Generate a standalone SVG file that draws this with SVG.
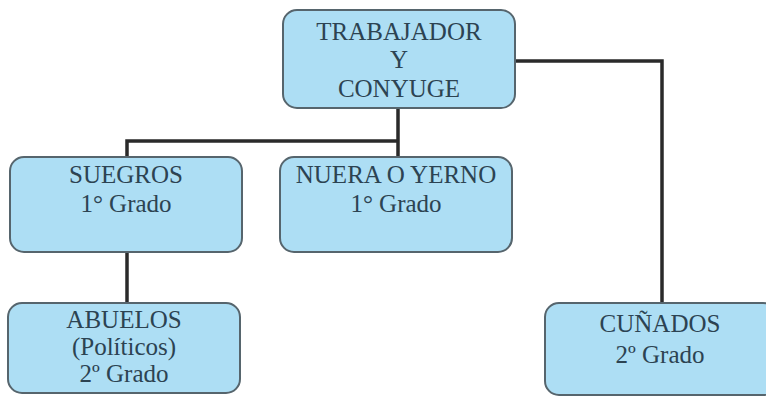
<svg xmlns="http://www.w3.org/2000/svg" width="766" height="396" viewBox="0 0 766 396">
<style>
.box{fill:#addef4;stroke:#56656d;stroke-width:2}
.t{font-family:"Liberation Serif","Times New Roman",serif;font-size:25px;fill:#2c4352;text-anchor:middle}
.c{fill:none;stroke:#2a2a2a;stroke-width:3.5;stroke-linejoin:miter}
</style>
<rect width="766" height="396" fill="#ffffff"/>
<g id="connectors">
<path class="c" d="M398 108 V141 M127 157 V141 H398 V157"/>
<path class="c" d="M127 252 V303"/>
<path class="c" d="M515 61 H662 V303"/>
</g>
<g id="trabajador">
<rect class="box" x="283" y="10" width="232" height="98" rx="14"/>
<text class="t" x="399" y="40">TRABAJADOR</text>
<text class="t" x="399" y="68">Y</text>
<text class="t" x="399" y="97">CONYUGE</text>
</g>
<g id="suegros">
<rect class="box" x="10" y="157" width="232" height="95" rx="14"/>
<text class="t" x="126" y="183">SUEGROS</text>
<text class="t" x="126" y="212">1° Grado</text>
</g>
<g id="nuera">
<rect class="box" x="280" y="157" width="232" height="95" rx="14"/>
<text class="t" x="396" y="183">NUERA O YERNO</text>
<text class="t" x="396" y="212">1° Grado</text>
</g>
<g id="abuelos">
<rect class="box" x="8" y="303" width="232" height="90" rx="14"/>
<text class="t" x="124" y="328">ABUELOS</text>
<text class="t" x="124" y="355">(Políticos)</text>
<text class="t" x="124" y="382">2º Grado</text>
</g>
<g id="cunados">
<rect class="box" x="545" y="303" width="232" height="92" rx="14"/>
<text class="t" x="660" y="332">CUÑADOS</text>
<text class="t" x="660" y="363">2º Grado</text>
</g>
</svg>
